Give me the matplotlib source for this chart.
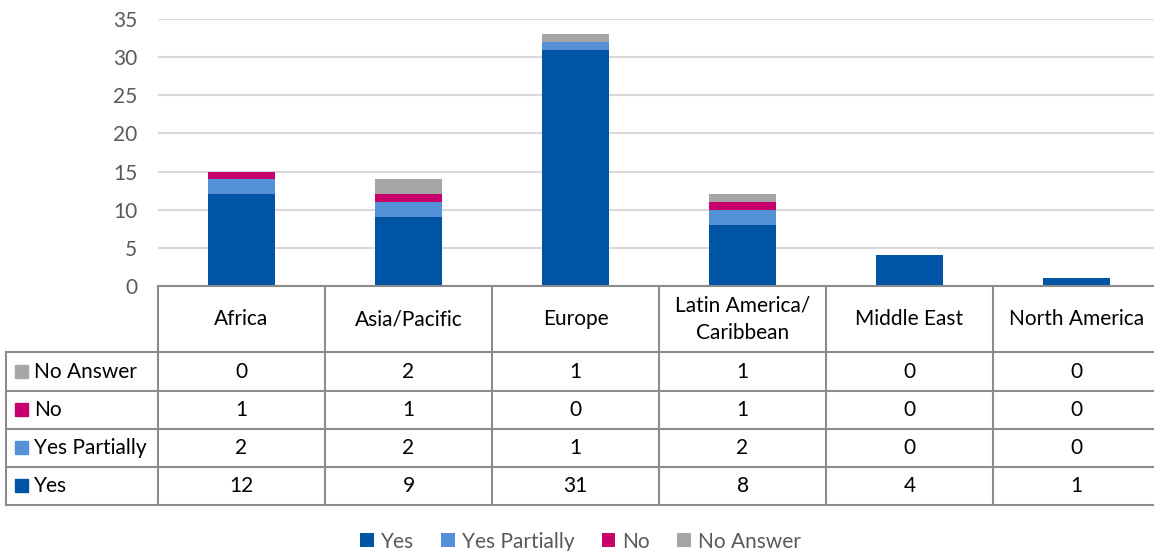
import numpy as np
import matplotlib
matplotlib.use("Agg")
import matplotlib.pyplot as plt
from matplotlib.patches import Rectangle

plt.rcParams['font.family'] = ['Lato', 'DejaVu Sans']

regions = ['Africa', 'Asia/Pacific', 'Europe', 'Latin America/\nCaribbean', 'Middle East', 'North America']
yes = [12, 9, 31, 8, 4, 1]
yes_partially = [2, 2, 1, 2, 0, 0]
no = [1, 1, 0, 1, 0, 0]
no_answer = [0, 2, 1, 1, 0, 0]

series_names = ['Yes', 'Yes Partially', 'No', 'No Answer']
series_vals = [yes, yes_partially, no, no_answer]
colors = ['#0054a6', '#5591d6', '#c8006e', '#a6a6a6']

W, H = 1154, 551
fig = plt.figure(figsize=(W / 100, H / 100), dpi=100)
fig.patch.set_facecolor('white')

# pixel layout
x0, col_w = 158, 167
y_top, y_zero = 19, 286
ax = fig.add_axes([x0 / W, 1 - y_zero / H, 6 * col_w / W, (y_zero - y_top) / H])

x = np.arange(len(regions))
bottom = np.zeros(len(regions))
handles = []
for name, vals, c in zip(series_names, series_vals, colors):
    b = ax.bar(x, vals, 0.4, bottom=bottom, color=c, label=name, zorder=3)
    handles.append(b)
    bottom += np.array(vals)

ax.set_xlim(-0.5, len(regions) - 0.5)
ax.set_ylim(0, 35)
ax.set_yticks(np.arange(0, 36, 5))
ax.yaxis.grid(True, color='#d9d9d9', lw=1.5, zorder=0)
ax.set_xticks([])
for s in ['top', 'right', 'left', 'bottom']:
    ax.spines[s].set_visible(False)
ax.tick_params(axis='y', length=0, labelsize=15, labelcolor='#595959', pad=15)

# data table drawn in pixel space
tb = fig.add_axes([0, 0, 1, 1])
tb.set_xlim(0, W)
tb.set_ylim(H, 0)
tb.axis('off')
line_c = '#8c8c8c'
x_end = x0 + 6 * col_w
row_y = [286, 352, 391, 429, 467, 505]
for i, yy in enumerate(row_y):
    tb.plot([6 if i > 0 else x0, x_end], [yy, yy], color=line_c, lw=1.5)
for j in range(7):
    xx = x0 + j * col_w
    tb.plot([xx, xx], [286, 505], color=line_c, lw=1.5)
tb.plot([6, 6], [352, 505], color=line_c, lw=1.5)

for j, r in enumerate(regions):
    tb.text(x0 + (j + 0.5) * col_w, (286 + 352) / 2, r, ha='center', va='center',
            fontsize=15, color='black', linespacing=1.45)

table_order = [3, 2, 1, 0]  # No Answer, No, Yes Partially, Yes
for i, k in enumerate(table_order):
    yc = (row_y[i + 1] + row_y[i + 2]) / 2
    tb.add_patch(Rectangle((15, yc - 7), 13, 13, color=colors[k]))
    tb.text(34, yc, series_names[k], ha='left', va='center', fontsize=15, color='black')
    for j, v in enumerate(series_vals[k]):
        tb.text(x0 + (j + 0.5) * col_w, yc, str(v), ha='center', va='center',
                fontsize=15, color='black')

leg = fig.legend(handles=handles, labels=series_names, loc='lower center',
                 bbox_to_anchor=(0.503, -0.035), ncol=4, frameon=False, fontsize=15,
                 handlelength=0.65, handleheight=0.65, handletextpad=0.35, columnspacing=1.3)
for t in leg.get_texts():
    t.set_color('#595959')

fig.savefig('out.png', dpi=100)
